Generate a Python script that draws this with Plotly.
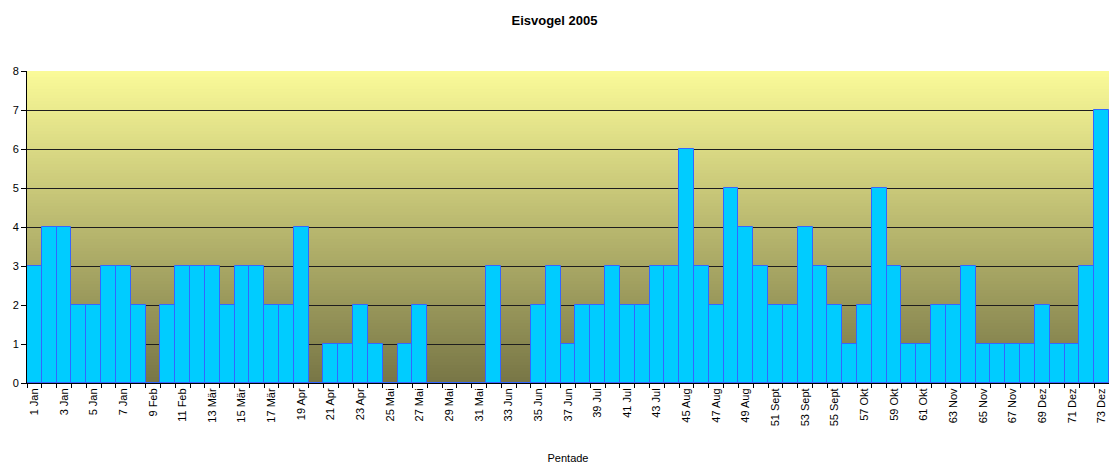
import plotly.graph_objects as go

# Pentaden 1..73 und beobachtete Anzahl Eisvögel
pentaden = list(range(1, 74))
anzahl = [
    3, 4, 4, 2, 2, 3, 3, 2, 0, 2,
    3, 3, 3, 2, 3, 3, 2, 2, 4, 0,
    1, 1, 2, 1, 0, 1, 2, 0, 0, 0,
    0, 3, 0, 0, 2, 3, 1, 2, 2, 3,
    2, 2, 3, 3, 6, 3, 2, 5, 4, 3,
    2, 2, 4, 3, 2, 1, 2, 5, 3, 1,
    1, 2, 2, 3, 1, 1, 1, 1, 2, 1,
    1, 3, 7,
]

# Beschriftete Pentaden (jede zweite)
tick_pentaden = list(range(1, 74, 2))
tick_texte = [
    "1 Jan", "3 Jan", "5 Jan", "7 Jan", "9 Feb", "11 Feb", "13 Mär", "15 Mär",
    "17 Mär", "19 Apr", "21 Apr", "23 Apr", "25 Mai", "27 Mai", "29 Mai", "31 Mai",
    "33 Jun", "35 Jun", "37 Jun", "39 Jul", "41 Jul", "43 Jul", "45 Aug", "47 Aug",
    "49 Aug", "51 Sept", "53 Sept", "55 Sept", "57 Okt", "59 Okt", "61 Okt", "63 Nov",
    "65 Nov", "67 Nov", "69 Dez", "71 Dez", "73 Dez",
]

FONT = "Liberation Sans, Arial, sans-serif"

fig = go.Figure()
fig.add_trace(go.Bar(
    x=pentaden,
    y=anzahl,
    width=1,
    marker=dict(color="#00CCFF", line=dict(color="#3366FF", width=1)),
    hovertemplate="Pentade %{x}: %{y}<extra></extra>",
))

# Hintergrund: Verlauf von hellgelb (oben) nach oliv (unten)
top = (250, 250, 152)
bottom = (120, 118, 70)
steps = 104
shapes = []
for i in range(steps):
    t = i / (steps - 1)
    r = round(bottom[0] + (top[0] - bottom[0]) * t)
    g = round(bottom[1] + (top[1] - bottom[1]) * t)
    b = round(bottom[2] + (top[2] - bottom[2]) * t)
    y0 = i / steps
    y1 = min(1.0, (i + 1.6) / steps)
    shapes.append(dict(
        type="rect", xref="x domain", yref="y domain",
        x0=0, x1=1, y0=y0, y1=y1,
        fillcolor=f"rgb({r},{g},{b})", line=dict(width=0), layer="below",
    ))

fig.update_layout(
    width=1109,
    height=465,
    margin=dict(l=27, r=0, t=71, b=82),
    paper_bgcolor="white",
    plot_bgcolor="rgba(0,0,0,0)",
    shapes=shapes,
    bargap=0,
    showlegend=False,
    font=dict(family=FONT, size=11, color="black"),
    title=dict(
        text="<b>Eisvogel 2005</b>",
        x=0.5, xanchor="center", y=0.955, yanchor="middle",
        font=dict(family=FONT, size=13, color="black"),
    ),
)

fig.update_xaxes(
    range=[0.5, 73.5],
    tickmode="array",
    tickvals=tick_pentaden,
    ticktext=tick_texte,
    tickangle=-90,
    ticks="",
    tickfont=dict(family=FONT, size=11),
    showgrid=False,
    zeroline=False,
    showline=True,
    linecolor="black",
    linewidth=1,
    minor=dict(
        tickmode="array",
        tickvals=[p - 0.5 for p in pentaden] + [73.5],
        ticks="outside", ticklen=4, tickcolor="black", showgrid=False,
    ),
    title=dict(text="Pentade", font=dict(family=FONT, size=11), standoff=28),
)

fig.update_yaxes(
    range=[0, 8],
    dtick=1,
    ticks="outside",
    ticklen=5,
    tickcolor="black",
    tickfont=dict(family=FONT, size=11),
    showgrid=True,
    gridcolor="#1e1e1e",
    gridwidth=1,
    zeroline=False,
    showline=True,
    linecolor="black",
    linewidth=1,
)

fig.write_html("out.html")
